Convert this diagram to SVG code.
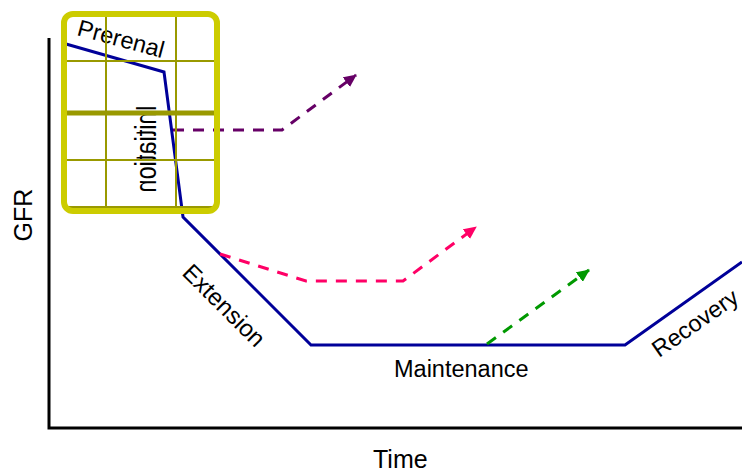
<svg xmlns="http://www.w3.org/2000/svg" width="742" height="473" viewBox="0 0 742 473">
<style>
text { font-family: "Liberation Sans", Arial, sans-serif; fill: #000; }
.lbl { font-size: 24px; }
.ax { font-size: 25px; }
.axis { stroke: #000; stroke-width: 3; fill: none; }
.curve { stroke: #000099; stroke-width: 3; fill: none; stroke-linejoin: miter; }
.dash { fill: none; stroke-width: 3; stroke-dasharray: 11 9; }
.grid { stroke: #999900; fill: none; }
</style>
<defs>
<marker id="ahP" markerUnits="userSpaceOnUse" markerWidth="14" markerHeight="12" refX="12" refY="6" orient="auto"><path d="M0,0 L13,6 L0,12 Z" fill="#660066"/></marker>
<marker id="ahR" markerUnits="userSpaceOnUse" markerWidth="14" markerHeight="12" refX="12" refY="6" orient="auto"><path d="M0,0 L13,6 L0,12 Z" fill="#ff0066"/></marker>
<marker id="ahG" markerUnits="userSpaceOnUse" markerWidth="14" markerHeight="12" refX="12" refY="6" orient="auto"><path d="M0,0 L13,6 L0,12 Z" fill="#009900"/></marker>
</defs>
<rect width="742" height="473" fill="#fff"/>
<g id="axes">
<path class="axis" d="M49,38 L49,428 L742,428"/>
<text class="ax" transform="translate(32,215) rotate(-90)" text-anchor="middle">GFR</text>
<text class="ax" x="373" y="468">Time</text>
</g>
<g id="labels">
<text class="lbl" id="lbl-prerenal" transform="translate(76,35) rotate(15)" style="font-size:23.5px">Prerenal</text>
<text class="lbl" id="lbl-initiation" transform="translate(156,105) rotate(90) scale(1,-1.25)" style="font-size:23.5px">Initiation</text>
<text class="lbl" id="lbl-extension" transform="translate(181,274) rotate(45)">Extension</text>
<text class="lbl" id="lbl-maintenance" x="394" y="377" style="font-size:23.5px">Maintenance</text>
<text class="lbl" id="lbl-recovery" transform="translate(659,358) rotate(-35)" style="font-size:23.5px">Recovery</text>
</g>
<g id="gfr-curve">
<path class="curve" d="M66,44 L164,72 L183,217 L311,345 L625,345 L742,262"/>
</g>
<g id="connectors">
<path class="dash" stroke="#660066" marker-end="url(#ahP)" d="M173,130 L282,130 L356,75"/>
<path class="dash" stroke="#ff0066" marker-end="url(#ahR)" d="M220,254 L306,281 L403,281 L476,227"/>
<path class="dash" stroke="#009900" marker-end="url(#ahG)" d="M487,344 L589,270"/>
</g>
<g id="zoom-box">
<path class="grid" stroke-width="2" d="M106,14 V211 M176,14 V211 M64,61 H217 M64,160 H217"/>
<path class="grid" stroke-width="5" d="M64,113 H217"/>
<path class="grid" stroke-width="4" d="M64,208 H217"/>
<rect x="64" y="14" width="153" height="197" rx="9" fill="none" stroke="#cccc00" stroke-width="6"/>
</g>
</svg>
